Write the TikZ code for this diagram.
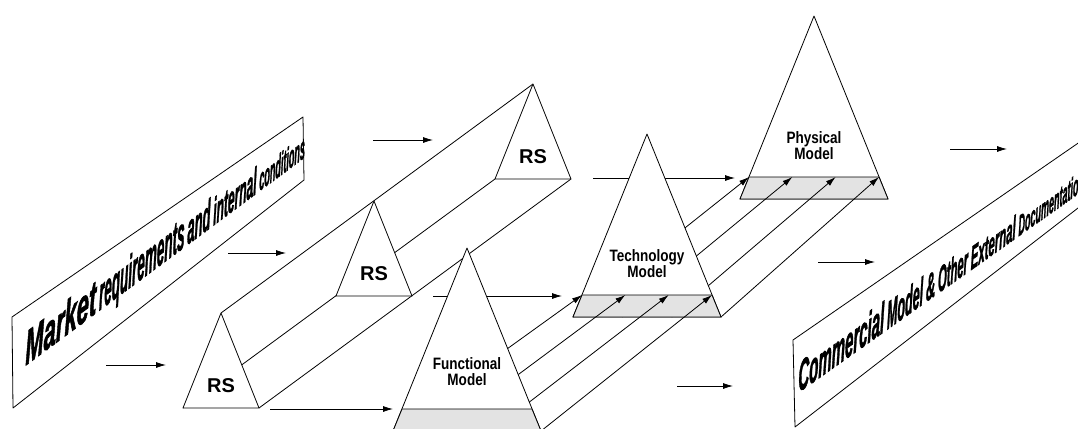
\documentclass[tikz,border=0pt]{standalone}
\usepackage{fontspec}
\setmainfont{Liberation Sans}
\newfontfamily\narrowfont[FakeStretch=0.82]{Liberation Sans}
\newfontfamily\bannerfont[FakeBold=2]{Liberation Sans}
\usepackage{graphicx}
\usetikzlibrary{arrows.meta, calc}

\newcommand{\persp}[3]{\scalebox{#1}[#2]{#3}}

\begin{document}
\begin{tikzpicture}[x=1pt, y=-1pt, line width=0.8pt,
    flow/.style={-{Latex[length=10pt, width=6pt]}},
    face/.style={draw, fill=white, line join=round},
    band/.style={draw, fill=gray!22, line join=round},
    rslabel/.style={font=\bfseries\fontsize{20}{20}\selectfont, inner sep=0pt},
    mlabel/.style={font=\narrowfont\bfseries\fontsize{16.5}{16}\selectfont, align=center, inner sep=0pt},
    banner/.style={font=\bannerfont\bfseries\itshape\fontsize{10}{10}\selectfont, anchor=base west, inner sep=0pt, transform shape}]
  \useasboundingbox (0,0) rectangle (1078,428);
  \clip (0,0) rectangle (1078,428);

  % banners
  \draw[line join=round] (12,317) -- (303,117) -- (304,180) -- (13,408) -- cycle;
  \draw[line join=round] (793,340) -- (1100,128) -- (1100,191) -- (795,427) -- cycle;
  \begin{scope}[shift={(25,366)}, yslant=0.745]
    \node[banner] (market) at (0,0) {\persp{2.2}{4.8}{Market} \persp{1.35}{4.6}{requirements} \persp{1.3}{4.2}{and} \persp{1.2}{3.8}{internal} \persp{0.9}{3.2}{conditions}};
  \end{scope}
  \begin{scope}[shift={(798,393)}, yslant=0.71]
    \node[banner] (commercial) at (0,0) {\persp{1.5}{4.3}{Commercial} \persp{1.25}{3.9}{Model} \persp{1.3}{3.7}{\&} \persp{1.12}{3.6}{Other} \persp{1.14}{3.3}{External} \persp{0.9}{2.9}{Documentation}};
  \end{scope}

  % requirement prism
  \foreach \n/\x/\y in {rsA/221/313, rsB/374/201, rsC/533/84} {
    \coordinate (\n) at (\x,\y);
    \coordinate (\n-l) at (\x-38,\y+95);
    \coordinate (\n-r) at (\x+38,\y+95);
  }
  \draw (rsA) -- (rsC);
  \draw (rsA-l) -- (rsC-l);
  \draw (rsA-r) -- (rsC-r);
  \foreach \n in {rsC, rsB, rsA} {
    \draw[face] (\n) -- (\n-r) -- (\n-l) -- cycle;
    \node[rslabel] (\n-txt) at ($(\n)+(0,73)$) {RS};
  }

  % horizontal flows
  \foreach \xs/\xe/\y [count=\i] in {106/166/365, 228/286/253, 373/433/140, 270/393/409, 433/562/296,
      593/735/178, 677/733/386, 818/875/262, 950/1007/149} {
    \coordinate (in\i) at (\xs,\y);
    \coordinate (out\i) at (\xe,\y);
    \draw[flow] (in\i) -- (out\i);
  }

  % models
  \foreach \m/\x/\y in {F/467/248, T/647/134, P/814/16} {
    \coordinate (\m) at (\x,\y);
    \coordinate (\m-l) at (\x-74,\y+183);
    \coordinate (\m-r) at (\x+74,\y+183);
    \coordinate (\m-bl) at (\x-65,\y+161);
    \coordinate (\m-br) at (\x+65,\y+161);
  }

  \draw[face] (P) -- (P-r) -- (P-l) -- cycle;
  \draw[band] (P-bl) -- (P-br) -- (P-r) -- (P-l) -- cycle;
  \node[mlabel] (phys) at (814,146) {Physical\\Model};
  \foreach \i in {0,...,3}
    \draw[flow] ($(T-l)!\i/3!(T-r)$) -- ($(P-bl)!\i/3!(P-br)$);

  \draw[face] (T) -- (T-r) -- (T-l) -- cycle;
  \draw[band] (T-bl) -- (T-br) -- (T-r) -- (T-l) -- cycle;
  \node[mlabel] (tech) at (647,264) {Technology\\Model};
  \foreach \i in {0,...,3}
    \draw[flow] ($(F-l)!\i/3!(F-r)$) -- ($(T-bl)!\i/3!(T-br)$);

  \draw[face] (F) -- (F-r) -- (F-l) -- cycle;
  \draw[band] (F-bl) -- (F-br) -- (F-r) -- (F-l) -- cycle;
  \node[mlabel] (func) at (467,371.5) {Functional\\Model};
\end{tikzpicture}
\end{document}
